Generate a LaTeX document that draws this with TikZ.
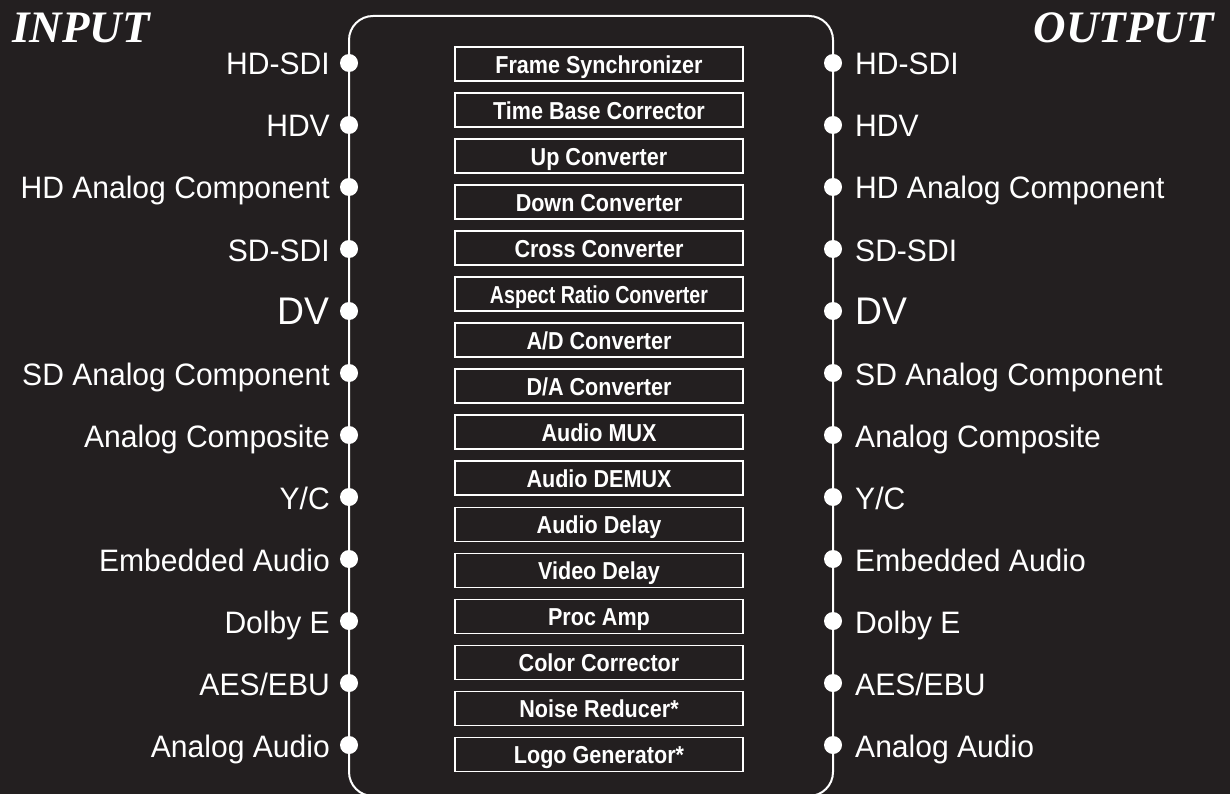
\documentclass[tikz,border=0pt]{standalone}
\usepackage{fontspec}
\usepackage{graphicx}
\setmainfont{Liberation Sans}
\newfontfamily\labfont[FakeStretch=0.97]{Liberation Sans}
\newfontfamily\boxfont[FakeStretch=0.88]{Liberation Sans}
\newfontfamily\titlefont{Liberation Serif}
\definecolor{bg}{HTML}{231F20}
\tikzset{
  frame/.style={draw=white, line width=2pt, rounded corners=24pt},
  port/.style={circle, fill=white, draw=none, minimum size=18pt, inner sep=0pt},
  inlab/.style={anchor=base east, inner sep=0pt, text=white, font=\labfont\fontsize{31}{31}\selectfont},
  outlab/.style={anchor=base west, inner sep=0pt, text=white, font=\labfont\fontsize{31}{31}\selectfont},
  biglab/.style={font=\labfont\fontsize{38.5}{38.5}\selectfont},
  fbox/.style={draw=white, line width=1.6pt, minimum width=288pt, minimum height=34pt, inner sep=0pt,
     text=white, text height=19pt, text depth=0pt, font=\boxfont\bfseries\fontsize{24.5}{24.5}\selectfont},
  title/.style={inner sep=0pt, text=white, font=\titlefont\bfseries\itshape\fontsize{45}{45}\selectfont}
}
\begin{document}
\begin{tikzpicture}[x=1pt,y=-1pt]
\useasboundingbox (0,0) rectangle (1230,794);
\fill[bg] (0,0) rectangle (1230,794);
\draw[frame] (349,16) rectangle (833,796);
\node[title, anchor=base west] (intitle) at (12,43) {INPUT};
\node[title, anchor=base east] (outtitle) at (1214,43) {OUTPUT};
% ports
\foreach \i/\t in {1/{HD-SDI},2/{HDV},3/{HD Analog Component},4/{SD-SDI},5/{DV},6/{SD Analog Component},7/{Analog Composite},8/{Y/C},9/{Embedded Audio},10/{Dolby E},11/{AES/EBU},12/{Analog Audio}}{
  \pgfmathsetmacro{\py}{63+62*(\i-1)}
  \node[port] (in\i) at (349,\py) {};
  \node[port] (out\i) at (833,\py) {};
  \ifnum\i=5
    \node[inlab, biglab] (inl\i) at ([xshift=-19pt,yshift=-13.5pt]in\i.center) {\t};
    \node[outlab, biglab] (outl\i) at ([xshift=22pt,yshift=-13.5pt]out\i.center) {\t};
  \else
    \node[inlab] (inl\i) at ([xshift=-19pt,yshift=-12pt]in\i.center) {\t};
    \node[outlab] (outl\i) at ([xshift=22pt,yshift=-12pt]out\i.center) {\t};
  \fi
}
% function boxes
\foreach \j/\t in {1/{Frame Synchronizer},2/{Time Base Corrector},3/{Up Converter},4/{Down Converter},5/{Cross Converter},6/{\scalebox{0.91}[1]{Aspect Ratio Converter}},7/{A/D Converter},8/{D/A Converter},9/{Audio MUX},10/{Audio DEMUX},11/{Audio Delay},12/{Video Delay},13/{Proc Amp},14/{Color Corrector},15/{Noise Reducer*},16/{Logo Generator*}}{
  \pgfmathsetmacro{\by}{64+46.03*(\j-1)}
  \node[fbox] (f\j) at (599,\by) {\t};
}
\end{tikzpicture}
\end{document}
